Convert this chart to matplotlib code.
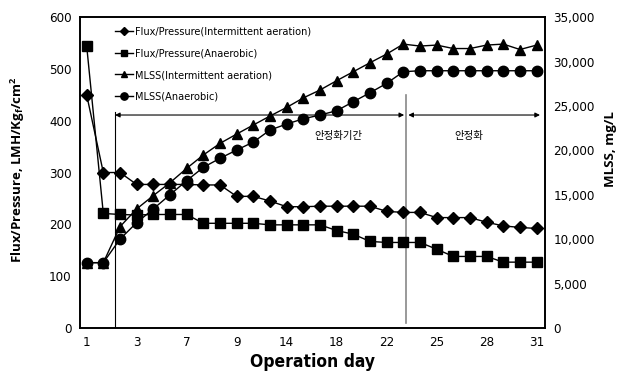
import matplotlib
matplotlib.use("Agg")
import matplotlib.pyplot as plt
from matplotlib.ticker import FuncFormatter

# ---- data ----
tick_labels = ["1", "3", "7", "9", "14", "18", "22", "25", "28", "31"]
n_points = 28
x = list(range(n_points))

flux_ia = [450, 300, 300, 277, 277, 277, 277, 276, 276, 254, 254, 245, 234, 234,
           235, 235, 235, 235, 225, 223, 223, 213, 213, 213, 204, 197, 194, 192]
flux_an = [545, 221, 219, 218, 219, 219, 219, 202, 202, 202, 202, 199, 199, 199,
           199, 188, 181, 167, 165, 165, 165, 152, 138, 138, 138, 127, 127, 127]
mlss_ia = [7350, 7350, 11400, 13400, 14900, 16350, 17970, 19470, 20780, 21830, 22850,
           23860, 24830, 25900, 26790, 27840, 28850, 29860, 30840, 31960, 31740, 31850,
           31460, 31460, 31850, 31960, 31350, 31850]
mlss_an = [7350, 7350, 10000, 11850, 13400, 15000, 16580, 18080, 19100, 20030, 20930,
           22280, 22960, 23550, 23970, 24460, 25470, 26480, 27540, 28850, 28960, 28960,
           28960, 28960, 28960, 28960, 28960, 28960]

phase_start = 1.7
phase_split = 19.15
phase_labels = ["안정화기간", "안정화"]
legend_labels = ["Flux/Pressure(Intermittent aeration)", "Flux/Pressure(Anaerobic)",
                 "MLSS(Intermittent aeration)", "MLSS(Anaerobic)"]

plt.rcParams["font.family"] = ["DejaVu Sans"]
plt.rcParams["font.stretch"] = "condensed"

fig = plt.figure(figsize=(6.2, 3.8), dpi=100)
ax = fig.add_axes([0.129, 0.137, 0.750, 0.818])
ax2 = ax.twinx()

ms = 6.5
l1, = ax.plot(x, flux_ia, "-", color="black", lw=1, marker="D", ms=ms - 0.8, zorder=3)
l2, = ax.plot(x, flux_an, "-", color="black", lw=1, marker="s", ms=ms, zorder=3)
l3, = ax2.plot(x, mlss_ia, "-", color="black", lw=1, marker="^", ms=ms, zorder=3)
l4, = ax2.plot(x, mlss_an, "-", color="black", lw=1, marker="o", ms=ms + 1, zorder=3)

ax.set_xlim(-0.4, 27.5)
ax.set_ylim(0, 600)
ax2.set_ylim(0, 35000)
ax.set_yticks(range(0, 601, 100))
ax2.set_yticks(range(0, 35001, 5000))
ax2.yaxis.set_major_formatter(FuncFormatter(lambda v, p: f"{int(v):,}"))
ax.set_xticks(x[::3])
ax.set_xticklabels(tick_labels)

for a in (ax, ax2):
    a.tick_params(length=0, labelsize=9.5, pad=6)
    for s in a.spines.values():
        s.set_linewidth(1.2)

ax.set_xlabel("Operation day", fontsize=12.5, fontweight="bold", labelpad=3)
ax.set_ylabel(r"Flux/Pressure, LMH/Kg$_\mathregular{f}$/cm$^\mathregular{2}$",
              fontsize=9.5, fontweight="bold", fontstretch="normal",
              family=["Open Sans", "DejaVu Sans"])
ax.yaxis.set_label_coords(-0.113, 0.51)
ax2.set_ylabel("MLSS, mg/L", fontsize=9.5, fontweight="bold", fontstretch="normal",
               family=["Open Sans", "DejaVu Sans"])
ax2.yaxis.set_label_coords(1.127, 0.575)

# phase annotations
y_arrow = 411
ax.plot([phase_start, phase_start], [0, 417], color="black", lw=0.8, zorder=1)
ax.plot([phase_split, phase_split], [10, 450], color="#888888", lw=1.2, zorder=1)
ax.annotate("", xy=(phase_start, y_arrow), xytext=(phase_split - 0.1, y_arrow),
            arrowprops=dict(arrowstyle="<|-|>", color="black", lw=0.8,
                            mutation_scale=7, shrinkA=0, shrinkB=0))
ax.annotate("", xy=(phase_split + 0.15, y_arrow), xytext=(27.2, y_arrow),
            arrowprops=dict(arrowstyle="<|-|>", color="black", lw=0.8,
                            mutation_scale=7, shrinkA=0, shrinkB=0))
ax.text(15.1, 370, phase_labels[0], ha="center", va="center", fontsize=7.5,
        family=["Noto Sans CJK KR", "DejaVu Sans"])
ax.text(22.9, 370, phase_labels[1], ha="center", va="center", fontsize=7.5,
        family=["Noto Sans CJK KR", "DejaVu Sans"])

ax.set_zorder(ax2.get_zorder() + 1)
ax.patch.set_visible(False)

leg = ax.legend([l1, l2, l3, l4], legend_labels, loc="upper left",
                bbox_to_anchor=(0.055, 1.0), frameon=False, fontsize=7.8,
                handlelength=1.6, handletextpad=0.2, labelspacing=1.08,
                markerscale=0.7)

fig.savefig("out.png", dpi=100)
